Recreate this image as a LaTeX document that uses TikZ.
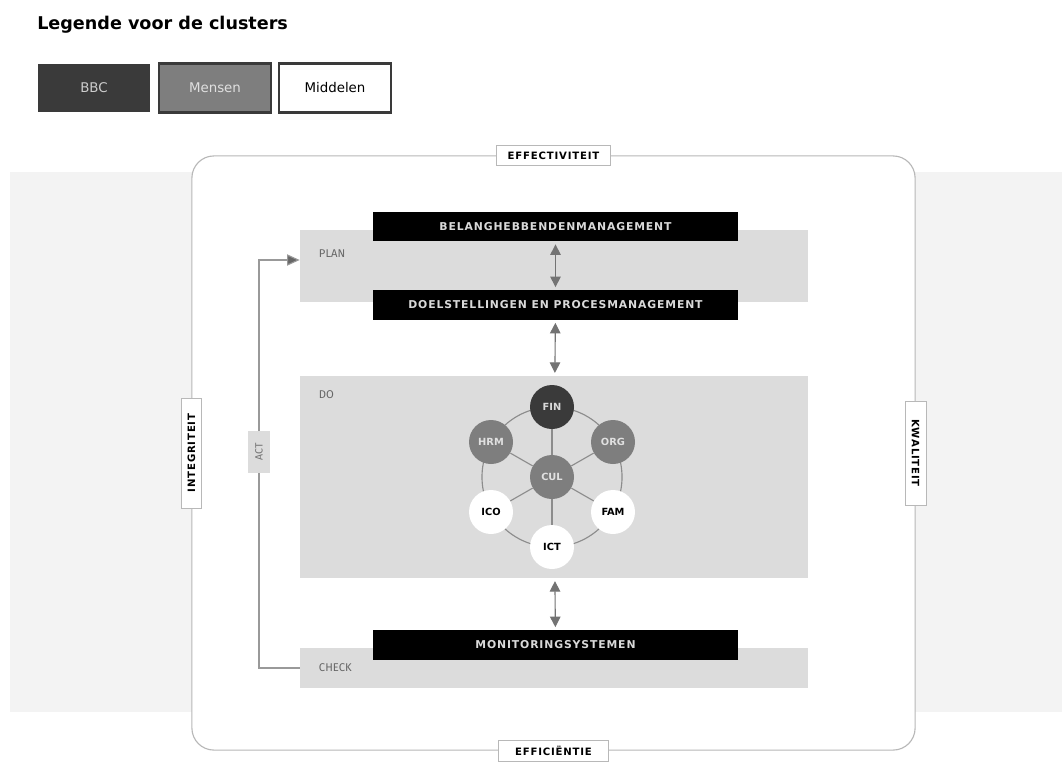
\documentclass[tikz,border=0pt]{standalone}
\usepackage{fontspec}
\setmainfont{DejaVu Sans}
\newfontfamily\capsfont[LetterSpace=8]{DejaVu Sans}
\newfontfamily\plainfont{Fira Sans}
\usepackage{tikz}
\usetikzlibrary{arrows.meta}

\definecolor{dark}{HTML}{3A3A3A}
\definecolor{mid}{HTML}{7E7E7E}
\definecolor{band}{HTML}{DCDCDC}
\definecolor{haze}{HTML}{F3F3F3}
\definecolor{rim}{HTML}{B8B8B8}

\tikzset{
  bar/.style={fill=black, text=white!85!black, inner sep=0pt,
    font=\capsfont\bfseries\fontsize{7.7}{8}\selectfont,
    minimum width=9.125cm, minimum height=0.74cm},
  zone/.style={fill=band, inner sep=0pt, minimum width=12.7cm},
  zonetext/.style={anchor=west, text=black!60, font=\plainfont\fontsize{8}{9}\selectfont},
  tag/.style={draw=rim, fill=white, inner sep=0pt, minimum height=0.52cm,
    font=\capsfont\bfseries\fontsize{7.2}{8}\selectfont},
  dbl/.style={{Triangle[width=7.5pt,length=7.5pt]}-{Triangle[width=7.5pt,length=7.5pt]},
    draw=black!55, line width=0.8pt, shorten >=2pt, shorten <=2pt},
  clus/.style={circle, minimum size=1.1cm, inner sep=0pt,
    font=\bfseries\fontsize{7}{8}\selectfont},
  legendbox/.style={minimum width=2.8cm, minimum height=1.22cm, inner sep=0pt,
    font=\fontsize{9.5}{10}\selectfont},
  spoke/.style={draw=black!45, line width=0.8pt}
}

\begin{document}
\begin{tikzpicture}[x=0.025cm, y=-0.025cm]
  \useasboundingbox (0,0) rectangle (1062,782);
  % legend
  \node[anchor=base west, inner sep=0pt, font=\bfseries\fontsize{12.5}{15}\selectfont] (title) at (37,30) {Legende voor de clusters};
  \node[legendbox, fill=dark, text=black!20] (bbc) at (94,88) {BBC};
  \node[legendbox, fill=mid, draw=dark, line width=1.6pt, text=black!12] (mensen) at (215,88) {Mensen};
  \node[legendbox, fill=white, draw=dark, line width=1.8pt] (middelen) at (335,88) {Middelen};

  % frame
  \fill[haze] (10,172) rectangle (1062,712);
  \node[draw=rim, fill=white, rounded corners=0.55cm, line width=0.8pt,
        minimum width=18.075cm, minimum height=14.85cm] (frame) at (553.5,453) {};
  \node[tag, minimum width=2.85cm] (eff) at (frame.north) {EFFECTIVITEIT};
  \node[tag, minimum width=2.75cm] (effi) at (frame.south) {EFFICIËNTIE};
  \node[tag, minimum width=2.75cm, rotate=90] (integ) at (frame.west) {INTEGRITEIT};
  \node[tag, minimum width=2.6cm, rotate=-90] (kwal) at (frame.east) {KWALITEIT};

  % plan / do / check
  \node[zone, minimum height=1.8cm] (plan) at (554,266) {};
  \node[zone, minimum height=5.05cm] (do) at (554,477) {};
  \node[zone, minimum height=1.0cm] (check) at (554,668) {};
  \node[zonetext] (plant) at (314,254) {PLAN};
  \node[zonetext] (dot) at (314,395) {DO};
  \node[zonetext] (checkt) at (314,668) {CHECK};

  \node[bar] (bel) at (555.5,226.5) {BELANGHEBBENDENMANAGEMENT};
  \node[bar] (doel) at (555.5,305) {DOELSTELLINGEN EN PROCESMANAGEMENT};
  \node[bar] (mon) at (555.5,645) {MONITORINGSYSTEMEN};

  \draw[dbl] (bel) -- (doel);
  \draw[dbl] (doel) -- (do);
  \draw[dbl] (do) -- (mon);

  % act loop
  \node[fill=band, rotate=90, minimum width=1.05cm, minimum height=0.55cm, inner sep=0pt,
        text=black!55, font=\plainfont\fontsize{7.5}{8}\selectfont] (act) at (259,452) {ACT};
  \draw[draw=black!40, line width=0.8pt, -{Triangle[width=8pt,length=9pt,fill=black!60]}]
    (check.west) -| (act) |- ([yshift=0.15cm]plan.west);

  % clusters
  \coordinate (hub) at (552,477);
  \draw[spoke] (hub) circle (1.75cm);
  \node[clus, fill=dark, text=black!15] (fin) at (552,407) {FIN};
  \node[clus, fill=mid, text=black!12] (hrm) at (491,442) {HRM};
  \node[clus, fill=mid, text=black!12] (org) at (613,442) {ORG};
  \node[clus, fill=mid, text=black!12] (cul) at (552,477) {CUL};
  \node[clus, fill=white] (ico) at (491,512) {ICO};
  \node[clus, fill=white] (fam) at (613,512) {FAM};
  \node[clus, fill=white] (ict) at (552,547) {ICT};
  \foreach \n in {fin,hrm,org,ico,fam,ict}
    \draw[spoke] (cul) -- (\n);
\end{tikzpicture}
\end{document}
